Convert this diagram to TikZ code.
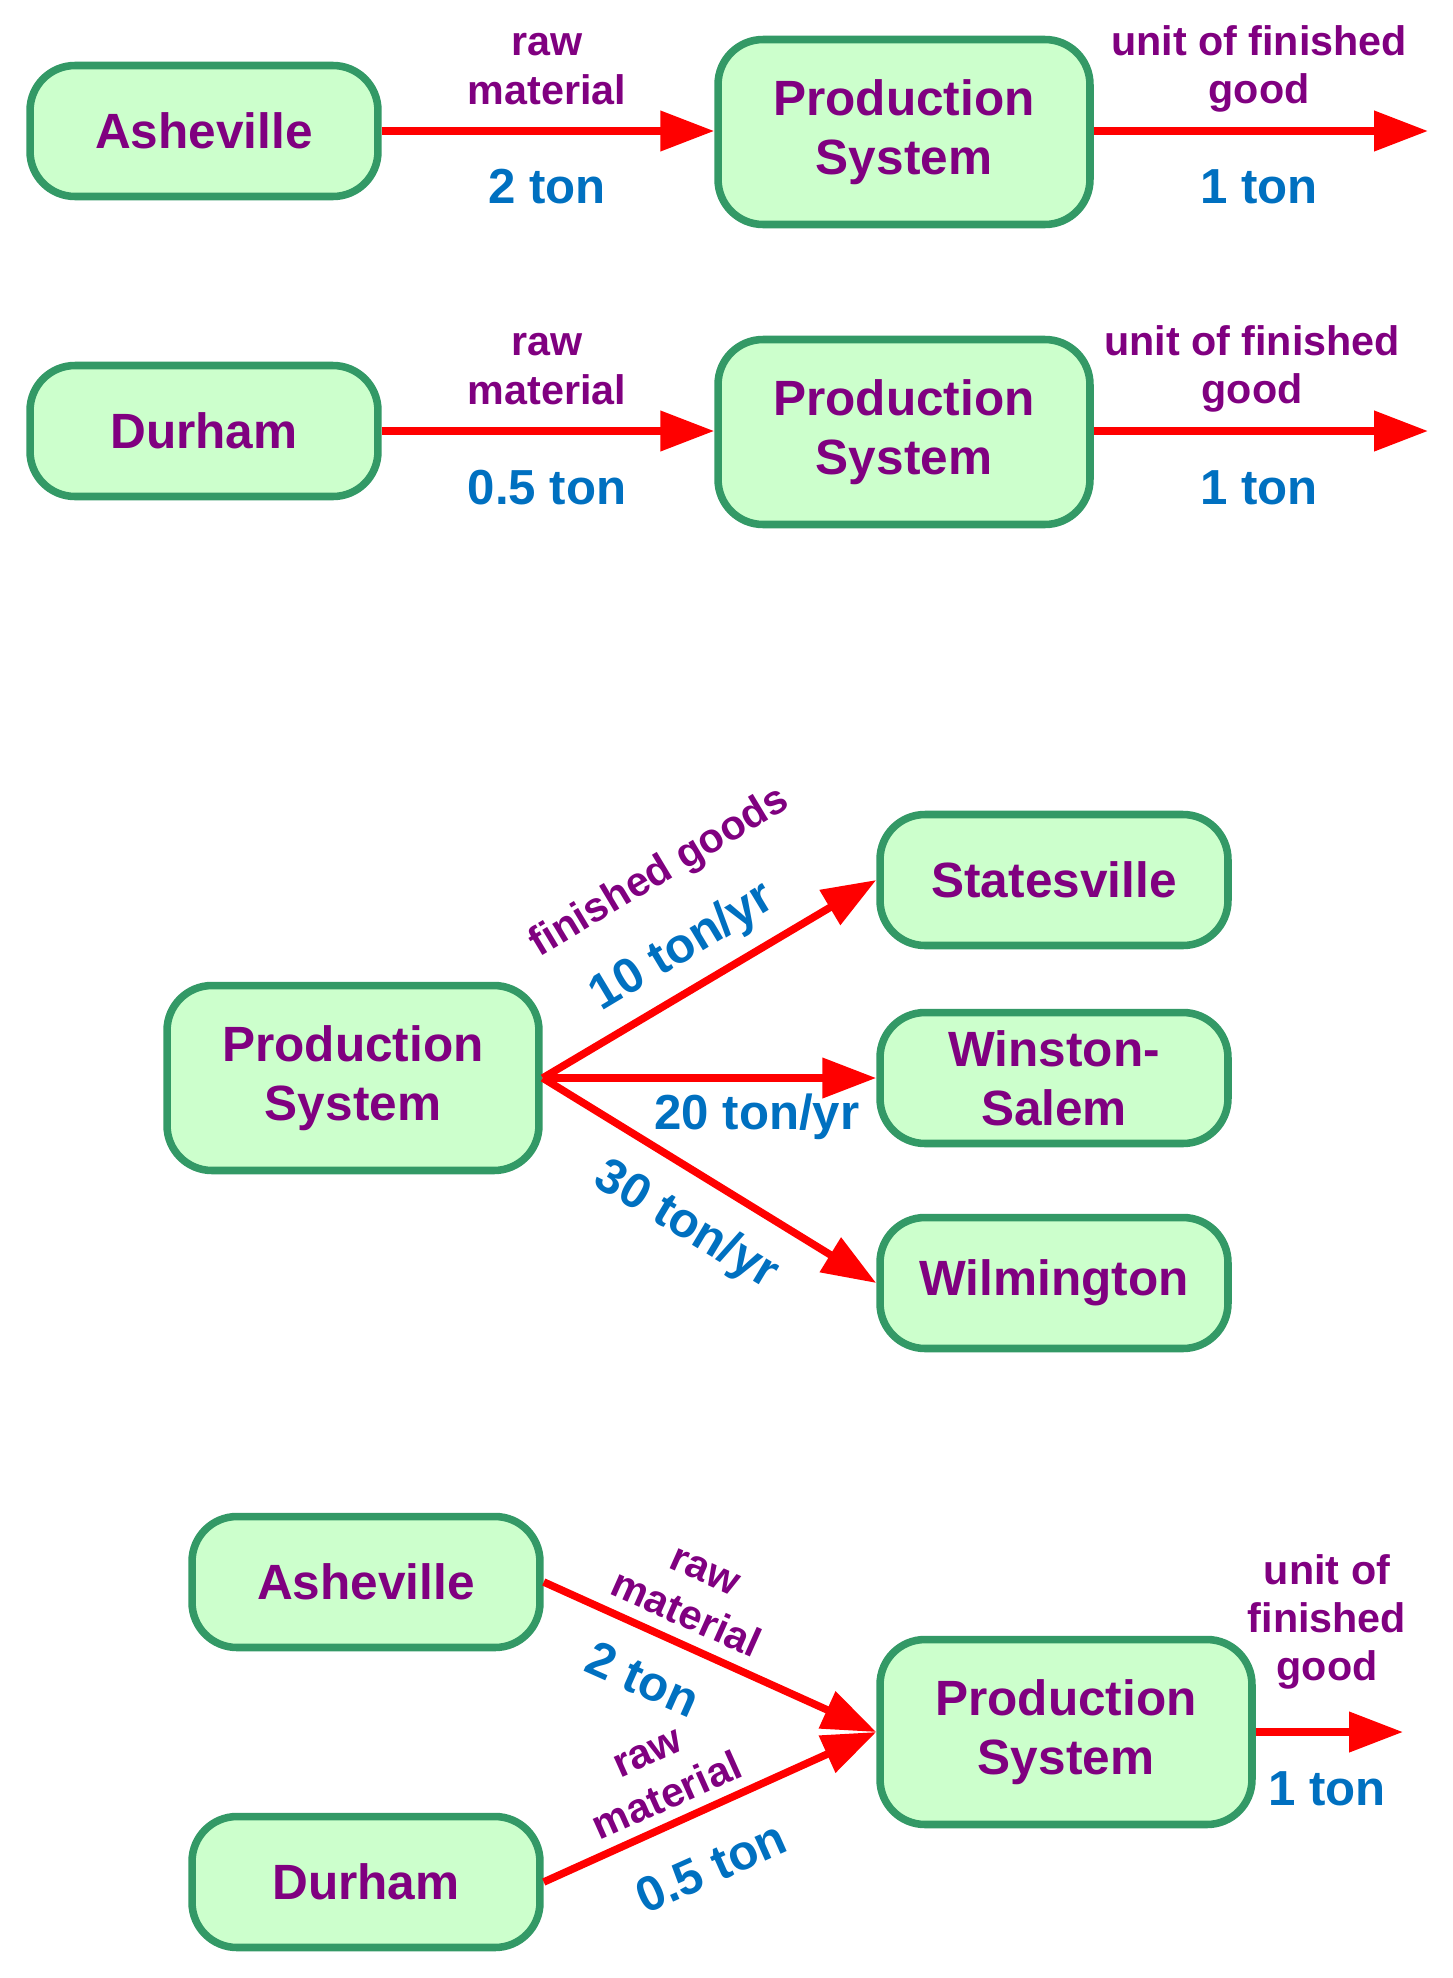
\documentclass[tikz,border=0pt]{standalone}
\usepackage{fontspec}
\setmainfont{Liberation Sans}
\usetikzlibrary{arrows.meta}
\definecolor{boxfill}{HTML}{CCFFCC}
\definecolor{boxline}{HTML}{339966}
\definecolor{txtpurple}{HTML}{800080}
\definecolor{qtyblue}{HTML}{0070C0}

\begin{document}
\begin{tikzpicture}[x=0.02cm, y=-0.02cm,
  place/.style={draw=boxline, fill=boxfill, line width=4.3pt, rounded corners=0.9cm,
    text=txtpurple, font=\fontsize{28.2}{33.5}\selectfont\bfseries, align=center,
    minimum width=6.96cm, minimum height=2.62cm, inner sep=0pt},
  prodbox/.style={place, minimum width=7.44cm, minimum height=3.7cm},
  flow/.style={draw=red, line width=4.3pt, -{Triangle[length=1.08cm,width=0.78cm]}},
  lbl/.style={text=txtpurple, font=\fontsize{23.5}{27.5}\selectfont\bfseries, align=center, inner sep=0pt},
  qty/.style={text=qtyblue, font=\fontsize{28}{33}\selectfont\bfseries, inner sep=0pt}]

  \useasboundingbox (0,0) rectangle (1453,1978);

  % Asheville supplies one plant
  \node[place] (ashe1) at (204,131) {Asheville};
  \node[prodbox] (prod1) at (904,132) {Production\\System};
  \coordinate (out1) at (1428,131);
  \draw[flow] (ashe1) -- (prod1.west |- ashe1);
  \draw[flow] (prod1.east |- out1) -- (out1);
  \node[lbl] (raw1) at (547,69) {raw\\material};
  \node[qty] (ton1) at (547,187) {2 ton};
  \node[lbl] (unit1) at (1259,69) {unit of finished\\good};
  \node[qty] (done1) at (1259,187) {1 ton};

  % Durham supplies one plant
  \node[place] (durh2) at (204,431) {Durham};
  \node[prodbox] (prod2) at (904,432) {Production\\System};
  \coordinate (out2) at (1428,431);
  \draw[flow] (durh2) -- (prod2.west |- durh2);
  \draw[flow] (prod2.east |- out2) -- (out2);
  \node[lbl] (raw2) at (547,369) {raw\\material};
  \node[qty] (ton2) at (547,488) {0.5 ton};
  \node[lbl] (unit2) at (1252,369) {unit of finished\\good};
  \node[qty] (done2) at (1259,488) {1 ton};

  % shipping finished goods to the three towns
  \node[prodbox] (prod3) at (353,1078) {Production\\System};
  \node[place] (stat) at (1054,880) {Statesville};
  \node[place] (wins) at (1054,1078) {Winston-\\Salem};
  \node[place] (wilm) at (1054,1283) {Wilmington};
  \foreach \town in {stat,wins,wilm}
    \draw[flow] (prod3.east) -- (\town.west);
  \node[lbl, rotate=31] (fin3) at (660,873) {finished goods};
  \node[qty, rotate=31] (rate1) at (683,948) {10 ton/yr};
  \node[qty] (rate2) at (757,1117) {20 ton/yr};
  \node[qty, rotate=-31] (rate3) at (686,1226) {30 ton/yr};

  % both suppliers feed one plant
  \node[place] (ashe4) at (366,1582) {Asheville};
  \node[place] (durh4) at (366,1882) {Durham};
  \node[prodbox] (prod4) at (1066,1732) {Production\\System};
  \coordinate (out4) at (1403,1732);
  \draw[flow] (ashe4.east) -- (prod4.west);
  \draw[flow] (durh4.east) -- (prod4.west);
  \draw[flow] (prod4) -- (out4);
  \node[lbl, rotate=-24] (raw4a) at (695,1594) {raw\\material};
  \node[qty, rotate=-24] (ton4a) at (643,1679) {2 ton};
  \node[lbl, rotate=24] (raw4b) at (658,1776) {raw\\material};
  \node[qty, rotate=24] (ton4b) at (711,1867) {0.5 ton};
  \node[lbl] (unit4) at (1327,1622) {unit of\\finished\\good};
  \node[qty] (done4) at (1327,1789) {1 ton};

\end{tikzpicture}
\end{document}
